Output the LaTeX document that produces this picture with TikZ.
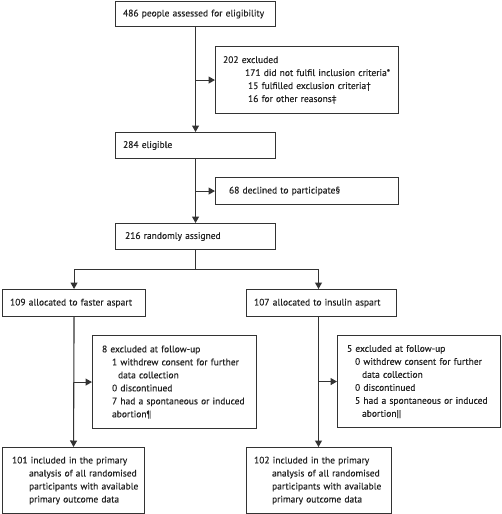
\documentclass[tikz,border=0pt]{standalone}
\usepackage{fontspec}
\setmainfont{PT Sans}[FakeBold=0.3]
\usetikzlibrary{arrows.meta}
\definecolor{ln}{HTML}{333333}
\definecolor{tx}{HTML}{222222}
\newcommand{\ind}[2]{\mbox{\hspace*{#1}#2}}
\begin{document}
\begin{tikzpicture}[x=1pt,y=-1pt,
  bx/.style={draw=ln, line width=1.1pt, anchor=north west, align=left, inner ysep=0pt,
    text=tx, font=\fontsize{9.5}{13}\selectfont},
  arr/.style={draw=ln, line width=1.1pt, -{Triangle[length=6.5pt,width=7pt]}},
  ln/.style={draw=ln, line width=1.1pt}]
\useasboundingbox (0,0) rectangle (502,514);
\node[bx, inner xsep=7.5pt, text width=145pt, minimum height=25pt] (A) at (115,1) {486 people assessed for eligibility};
\node[bx, inner xsep=7.5pt, text width=168pt, minimum height=67pt] (B) at (215,46) {202 excluded\\
\ind{22pt}{171 did not fulfil inclusion criteria*}\\
\ind{25pt}{15 fulfilled exclusion criteria†}\\
\ind{25pt}{16 for other reasons‡}};
\node[bx, inner xsep=7.5pt, text width=145pt, minimum height=26pt] (C) at (115,132) {284 eligible};
\node[bx, inner xsep=13.5pt, text width=156pt, minimum height=27pt] (D) at (215,177) {68 declined to participate§};
\node[bx, inner xsep=9.5pt, text width=141pt, minimum height=26pt] (E) at (115,223) {216 randomly assigned};
\node[bx, inner xsep=7.5pt, text width=128pt, minimum height=27pt] (F) at (2,289) {\mbox{109 allocated to faster aspart}};
\node[bx, inner xsep=7.5pt, text width=135pt, minimum height=27pt] (G) at (246,289) {\mbox{107 allocated to insulin aspart}};
\node[bx, inner xsep=9.5pt, text width=145pt, minimum height=93pt] (H) at (92,335) {\mbox{8 excluded at follow-up}\\
\ind{10pt}{1 withdrew consent for further}\\
\ind{16pt}{data collection}\\
\ind{10pt}{0 discontinued}\\
\ind{10pt}{7 had a spontaneous or induced}\\
\ind{10pt}{abortion¶}};
\node[bx, inner xsep=9.5pt, text width=144pt, minimum height=92pt] (I) at (337,335) {\mbox{5 excluded at follow-up}\\
\ind{8pt}{0 withdrew consent for further}\\
\ind{15pt}{data collection}\\
\ind{8pt}{0 discontinued}\\
\ind{8pt}{5 had a spontaneous or induced}\\
\ind{15pt}{abortion||}};
\node[bx, inner xsep=9.5pt, text width=123pt, minimum height=66pt] (J) at (2,447) {\mbox{101 included in the primary}\\
\ind{17pt}{analysis of all randomised}\\
\ind{17pt}{participants with available}\\
\ind{17pt}{primary outcome data}};
\node[bx, inner xsep=7.5pt, text width=130pt, minimum height=66pt] (K) at (246,447) {\mbox{102 included in the primary}\\
\ind{18pt}{analysis of all randomised}\\
\ind{18pt}{participants with available}\\
\ind{18pt}{primary outcome data}};
% connectors
\draw[arr] (A.south) -- (C.north);
\draw[arr] (A.south |- B.west) -- (B.west);
\draw[arr] (C.south) -- (E.north);
\draw[arr] (C.south |- D.west) -- (D.west);
\coordinate (sp) at (E.south |- 0,269.5);
\coordinate (rb) at (318.5,269.5);
\draw[ln] (E.south) -- (sp);
\draw[arr] (sp) -| (F.north);
\draw[arr] (sp) -| (rb) -- (rb |- G.north);
\draw[arr] (F.south) -- (J.north);
\draw[arr] (F.south |- H.west) -- (H.west);
\draw[arr] (rb |- G.south) -- (rb |- K.north);
\draw[arr] (rb |- I.west) -- (I.west);
\end{tikzpicture}
\end{document}
